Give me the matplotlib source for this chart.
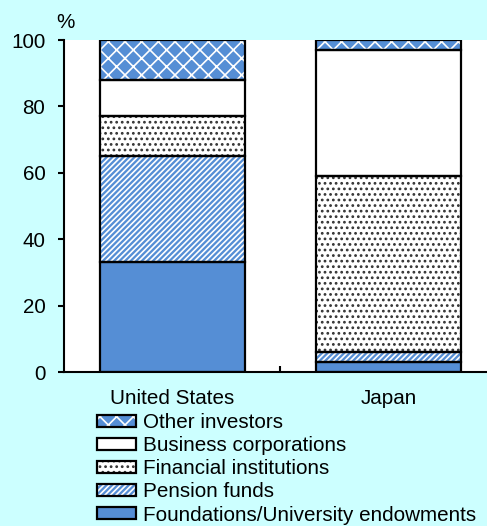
import matplotlib
matplotlib.use("Agg")
import matplotlib.pyplot as plt
from matplotlib.patches import Patch
import numpy as np

countries = ["United States", "Japan"]
series_names = [
    "Foundations/University endowments",
    "Pension funds",
    "Financial institutions",
    "Business corporations",
    "Other investors",
]
foundations = [33, 3]
pension = [32, 3]
financial = [12, 53]
business = [11, 38]
other = [12, 3]
yticks = [0, 20, 40, 60, 80, 100]

BLUE = "#558ED5"
BG = "#CCFFFF"
styles = [
    dict(face=BLUE, hatch=None, hcolor=None),
    dict(face=BLUE, hatch="//////", hcolor="white"),
    dict(face="white", hatch="...", hcolor="#333333"),
    dict(face="white", hatch=None, hcolor=None),
    dict(face=BLUE, hatch="xx", hcolor="white"),
]

FS = 14.9
plt.rcParams["font.family"] = ["Liberation Sans", "DejaVu Sans"]
plt.rcParams["hatch.linewidth"] = 1.2

fig = plt.figure(figsize=(4.87, 5.26), dpi=100, facecolor=BG)
ax = fig.add_axes([64 / 487, 154 / 526, 432.5 / 487, 332 / 526])
ax.set_facecolor("white")

x = np.arange(len(countries))
width = 0.67
bottom = np.zeros(len(countries))
handles = []
for name, vals, st in zip(series_names,
                          [foundations, pension, financial, business, other],
                          styles):
    vals = np.array(vals, dtype=float)
    # filled layer carrying the hatch
    ax.bar(x, vals, width, bottom=bottom, color=st["face"],
           hatch=st["hatch"], edgecolor=st["hcolor"] or st["face"],
           linewidth=0, zorder=2)
    # outline layer
    ax.bar(x, vals, width, bottom=bottom, fill=False,
           edgecolor="black", linewidth=1.6, zorder=3)
    bottom += vals
    h_fill = Patch(facecolor=st["face"], hatch=st["hatch"],
                   edgecolor=st["hcolor"] or st["face"], linewidth=0)
    h_edge = Patch(fill=False, edgecolor="black", linewidth=1.6)
    handles.append((h_fill, h_edge))

ax.set_xlim(-0.5, 1.5)
ax.set_ylim(0, 100)
ax.set_yticks(yticks)
ax.set_xticks(x)
ax.set_xticklabels(countries, fontsize=FS)
ax.tick_params(axis="x", length=0, pad=12)
ax.set_xticks([0.5], minor=True)
ax.tick_params(axis="x", which="minor", direction="in", length=4.5, width=1.5)
ax.tick_params(axis="y", direction="out", length=4.5, width=1.5,
               labelsize=FS, pad=9)
for s in ["top", "right"]:
    ax.spines[s].set_visible(False)
for s in ["left", "bottom"]:
    ax.spines[s].set_linewidth(1.5)
    ax.spines[s].set_color("black")
ax.spines["bottom"].set_zorder(4)

fig.text(56 / 487, 1 - 22 / 526, "%", fontsize=FS, va="center", ha="left")

leg = fig.legend(handles[::-1], series_names[::-1],
                 loc="upper left", bbox_to_anchor=(97 / 487, 1 - 413 / 526),
                 frameon=False, fontsize=FS, handlelength=1.9,
                 handleheight=0.5, handletextpad=0.3, labelspacing=0.2,
                 borderaxespad=0, borderpad=0)

fig.savefig("out.png", dpi=100, facecolor=BG)
